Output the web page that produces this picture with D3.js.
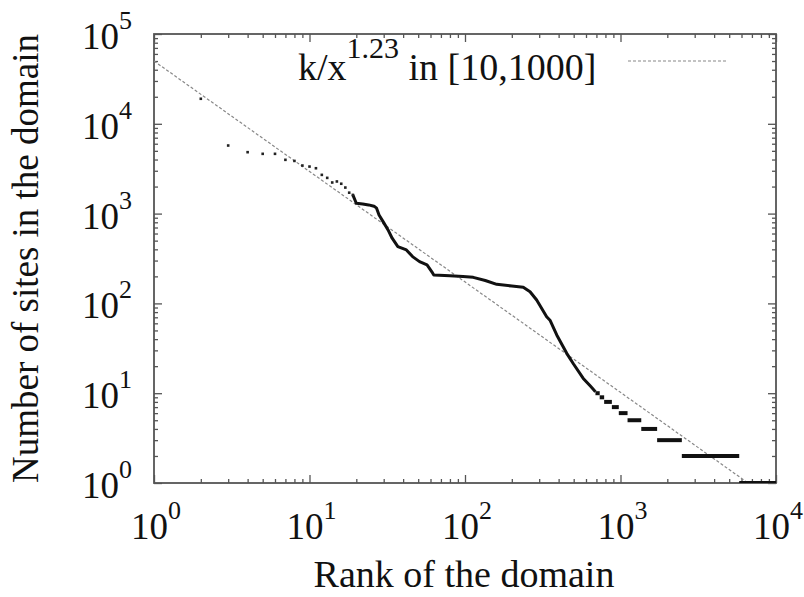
<!DOCTYPE html>
<html>
<head>
<meta charset="utf-8">
<script src="https://cdn.jsdelivr.net/npm/d3@7"></script>
<style>
  body { margin: 0; background: #fff; }
</style>
</head>
<body>
<div id="chart"></div>
<script>
// sparse top-ranked domains (drawn as dots)
const dotRanks  = [2, 3, 4, 5, 6, 7, 8, 9, 10, 11, 12, 13, 14, 15, 16, 17, 18, 19];
const dotValues = [19000, 5730, 4830, 4630, 4630, 3970, 3860, 3430, 3340, 3200, 2700, 2500, 2220, 2280, 2150, 1950, 1710, 1615];

// dense part of the distribution (drawn as a thick line)
const curveRanks  = [19, 20, 22, 24, 26, 27, 28, 30, 32, 34, 37, 42, 46, 51, 57, 62, 63, 80, 97, 113, 135, 160, 200, 237, 262, 289, 335, 352, 389, 451, 500, 576, 640, 690];
const curveValues = [1615, 1305, 1280, 1250, 1210, 1150, 966, 794, 658, 532, 429, 394, 332, 292, 268, 217, 207, 203, 199, 195, 180, 163, 156, 151, 135, 109, 71, 65, 44.5, 27.8, 21, 14.6, 12, 10.4];

// plateaus of the tail: [first rank, last rank, sites]
const stepStart = [690, 735, 785, 880, 975, 1110, 1360, 1720, 2480, 5800];
const stepEnd   = [735, 785, 880, 975, 1110, 1360, 1720, 2480, 5800, 10000];
const stepValue = [10, 9, 8, 7, 6, 5, 4, 3, 2, 1];

// power-law fit k/x^1.23
const fitK = 50000;
const fitExp = 1.23;
const fitRanks = [1, 10000];

const xMajor = [1, 10, 100, 1000, 10000];
const yMajor = [1, 10, 100, 1000, 10000, 100000];
const xExp = ["0", "1", "2", "3", "4"];
const yExp = ["0", "1", "2", "3", "4", "5"];

const W = 804, H = 597;
const margin = {top: 34, right: 28, bottom: 114, left: 154};
const width = W - margin.left - margin.right;
const height = H - margin.top - margin.bottom;
const FONT = "'Liberation Serif', monospace";

const svg = d3.select("#chart").append("svg")
    .attr("width", W)
    .attr("height", H);

const g = svg.append("g")
    .attr("transform", "translate(" + margin.left + "," + margin.top + ")");

const x = d3.scaleLog().domain([1, 10000]).range([0, width]);
const y = d3.scaleLog().domain([1, 100000]).range([height, 0]);

g.append("clipPath").attr("id", "clip")
    .append("rect").attr("width", width).attr("height", height);

// minor ticks 2..9 in each decade
function minors(lo, hi) {
    let out = [];
    for (let d = lo; d < hi; d *= 10)
        for (let m = 2; m <= 9; m++) out.push(d * m);
    return out;
}
const xMinor = minors(1, 10000);
const yMinor = minors(1, 100000);

function styleAxis(sel) {
    sel.select(".domain").remove();
    sel.selectAll("line").attr("stroke", "#555").attr("stroke-width", 1.3);
}

// ticks on all four sides, pointing inward
g.append("g").attr("transform", "translate(0," + height + ")")
    .call(d3.axisBottom(x).tickValues(xMajor).tickSize(-8).tickFormat("")).call(styleAxis);
g.append("g").attr("transform", "translate(0," + height + ")")
    .call(d3.axisBottom(x).tickValues(xMinor).tickSize(-4).tickFormat("")).call(styleAxis);
g.append("g")
    .call(d3.axisTop(x).tickValues(xMajor).tickSize(-8).tickFormat("")).call(styleAxis);
g.append("g")
    .call(d3.axisTop(x).tickValues(xMinor).tickSize(-4).tickFormat("")).call(styleAxis);
g.append("g")
    .call(d3.axisLeft(y).tickValues(yMajor).tickSize(-8).tickFormat("")).call(styleAxis);
g.append("g")
    .call(d3.axisLeft(y).tickValues(yMinor).tickSize(-4).tickFormat("")).call(styleAxis);
g.append("g").attr("transform", "translate(" + width + ",0)")
    .call(d3.axisRight(y).tickValues(yMajor).tickSize(-8).tickFormat("")).call(styleAxis);
g.append("g").attr("transform", "translate(" + width + ",0)")
    .call(d3.axisRight(y).tickValues(yMinor).tickSize(-4).tickFormat("")).call(styleAxis);

// frame
g.append("rect")
    .attr("width", width).attr("height", height)
    .attr("fill", "none").attr("stroke", "#555").attr("stroke-width", 1.8);

// tick labels 10^n
function powerLabel(sel, exp) {
    sel.append("tspan").attr("font-size", 37).text("10");
    sel.append("tspan").attr("font-size", 26).attr("dy", -20).text(exp);
}
g.selectAll(".xlab").data(xMajor).enter().append("text")
    .attr("class", "xlab")
    .attr("x", d => x(d) + 2)
    .attr("y", height + 56)
    .attr("text-anchor", "middle")
    .attr("fill", "#111")
    .style("font-family", FONT)
    .each(function(d, i) { powerLabel(d3.select(this), xExp[i]); });

g.selectAll(".ylab").data(yMajor).enter().append("text")
    .attr("class", "ylab")
    .attr("x", -22)
    .attr("y", d => y(d) + 15)
    .attr("text-anchor", "end")
    .attr("fill", "#111")
    .style("font-family", FONT)
    .each(function(d, i) { powerLabel(d3.select(this), yExp[i]); });

// axis titles
svg.append("text")
    .attr("x", margin.left + width / 2 - 1)
    .attr("y", 587)
    .attr("text-anchor", "middle")
    .attr("font-size", 38)
    .attr("fill", "#111")
    .style("font-family", FONT)
    .text("Rank of the domain");

svg.append("text")
    .attr("transform", "translate(38," + (margin.top + height / 2) + ") rotate(-90)")
    .attr("text-anchor", "middle")
    .attr("font-size", 37)
    .attr("fill", "#111")
    .style("font-family", FONT)
    .text("Number of sites in the domain");

const plot = g.append("g").attr("clip-path", "url(#clip)");

// fit line
const fitLine = d3.line()
    .x(d => x(d))
    .y(d => y(fitK / Math.pow(d, fitExp)));
plot.append("path")
    .datum(fitRanks)
    .attr("d", fitLine)
    .attr("fill", "none")
    .attr("stroke", "#888")
    .attr("stroke-width", 1.2)
    .attr("stroke-dasharray", "3,2");

// dense curve
const curve = d3.line()
    .x((d, i) => x(curveRanks[i]))
    .y((d, i) => y(curveValues[i]));
plot.append("path")
    .datum(curveRanks)
    .attr("d", curve)
    .attr("fill", "none")
    .attr("stroke", "#111")
    .attr("stroke-width", 3)
    .attr("stroke-linejoin", "round");

// plateaus
plot.selectAll(".step").data(stepValue).enter().append("line")
    .attr("class", "step")
    .attr("x1", (d, i) => x(stepStart[i]))
    .attr("x2", (d, i) => x(stepEnd[i]))
    .attr("y1", d => y(d))
    .attr("y2", d => y(d))
    .attr("stroke", "#111")
    .attr("stroke-width", 4);

// sparse dots
plot.selectAll(".dot").data(dotRanks).enter().append("rect")
    .attr("class", "dot")
    .attr("x", d => x(d) - 1.3)
    .attr("y", (d, i) => y(dotValues[i]) - 1.3)
    .attr("width", 2.6)
    .attr("height", 2.6)
    .attr("fill", "#222");

// legend
const leg = svg.append("text")
    .attr("x", 298)
    .attr("y", 80)
    .attr("font-size", 38)
    .attr("fill", "#111")
    .style("font-family", FONT);
leg.append("tspan").text("k/x");
leg.append("tspan").attr("font-size", 30).attr("dy", -22).text("1.23");
leg.append("tspan").attr("dy", 22).text(" in [10,1000]");

svg.append("line")
    .attr("x1", 628).attr("x2", 728)
    .attr("y1", 61).attr("y2", 61)
    .attr("stroke", "#888")
    .attr("stroke-width", 1.2)
    .attr("stroke-dasharray", "3,2");
</script>
</body>
</html>
